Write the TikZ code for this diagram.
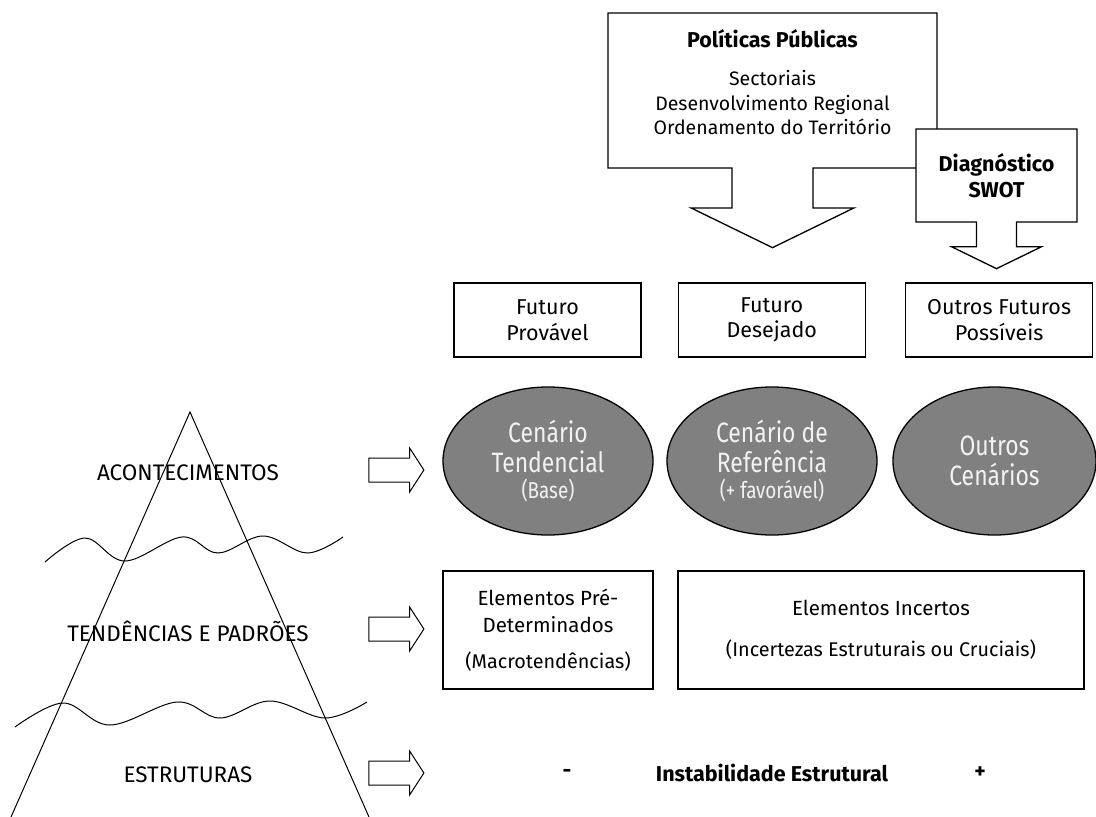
\documentclass[tikz,border=0pt]{standalone}
\usepackage{fontspec}
\setmainfont{Fira Sans}
\newfontfamily\estreita[FakeStretch=0.82]{Fira Sans}
\usepackage{tikz}
\usetikzlibrary{positioning, shapes.arrows, shapes.geometric}
\definecolor{cinza}{RGB}{128,128,128}
\definecolor{claro}{RGB}{242,242,242}
\tikzstyle{txt}=[font=\fontsize{21.5}{25.5}\selectfont, align=center]
\tikzstyle{fut}=[txt, draw, line width=1.3pt, minimum width=187pt, minimum height=74pt]
\tikzstyle{cen}=[ellipse, draw, line width=1.3pt, fill=cinza, text=claro, inner sep=0pt,
  minimum width=210pt, minimum height=148pt, align=center, font=\estreita\fontsize{28}{30}\selectfont]
\tikzstyle{elem}=[txt, draw, line width=1.3pt, minimum height=118pt, font=\fontsize{20.5}{27}\selectfont]
\tikzstyle{seta}=[single arrow, draw, line width=1pt, inner xsep=0pt, inner ysep=11.5pt,
  minimum height=55pt, single arrow head extend=10pt, single arrow tip angle=114]
\tikzstyle{caixaseta}=[arrow box, draw, fill=white, line width=1.3pt, txt, inner sep=0pt,
  arrow box tip angle=128, arrow box north arrow=-1pt, arrow box east arrow=-1pt,
  arrow box west arrow=-1pt]
\newcommand{\parent}[1]{{\fontsize{19.8}{24}\selectfont #1}}

\begin{document}
\begin{tikzpicture}[x=1pt, y=-1pt]
    \useasboundingbox (0,0) rectangle (1096,817);

    % piramide e ondas
    \draw[line width=1pt] (11,817) -- (190,412) -- (369,817);
    \draw[line width=1pt] plot[smooth, tension=0.6] coordinates {(45,562) (85,538) (125,561) (182,537) (218,553) (263,536) (307,553) (343,537)};
    \draw[line width=1pt] plot[smooth, tension=0.6] coordinates {(15,727) (63,703) (110,725) (177,702) (220,718) (270,701) (325,718) (367,702)};
    \node[txt, font=\fontsize{22.5}{26}\selectfont] (acont) at (188,473) {ACONTECIMENTOS};
    \node[txt, font=\fontsize{22.5}{26}\selectfont] (tend) at (188,631) {TENDÊNCIAS E PADRÕES};
    \node[txt, font=\fontsize{22.5}{26}\selectfont] (estr) at (188,775) {ESTRUTURAS};

    \node[seta] (s1) at (392.5,470) {};
    \node[seta] (s2) at (392.5,629) {};
    \node[seta] (s3) at (392.5,773) {};

    % politicas e swot
    \node[caixaseta, minimum width=329pt, minimum height=155pt, arrow box shaft width=81pt,
      arrow box head extend=41pt, arrow box south arrow=79pt] (pp) at (772.5,90.5) {};
    \node[txt, font=\fontsize{19.5}{24.5}\selectfont] (pptxt) at (772.5,82) {{\fontsize{21.5}{24}\selectfont\textbf{Políticas Públicas}}\\[14pt]Sectoriais\\Desenvolvimento Regional\\Ordenamento do Território};
    \node[caixaseta, minimum width=161pt, minimum height=93pt, arrow box shaft width=40pt,
      arrow box head extend=25pt, arrow box south arrow=46pt] (swot) at (996.5,175.5) {\textbf{Diagnóstico}\\\textbf{SWOT}};

    % futuros
    \node[fut] (fprov) at (547.5,320) {Futuro\\Provável};
    \node[fut, right=36pt of fprov] (fdes) {Futuro\\Desejado};
    \node[fut, right=39pt of fdes] (fout) {Outros Futuros\\Possíveis};

    % cenarios
    \node[cen] (ctend) at (548,461) {Cenário\\Tendencial\\[-4pt]{\fontsize{23}{26}\selectfont (Base)}};
    \node[cen] (cref) at (772,461) {Cenário de\\Referência\\[-4pt]{\fontsize{23}{26}\selectfont (+ favorável)}};
    \node[cen, minimum width=203pt] (cout) at (994.5,461) {Outros\\Cenários};

    % elementos
    \node[elem, minimum width=210pt] (epre) at (548,630) {Elementos Pré-\\Determinados\\[9pt]\parent{(Macrotendências)}};
    \node[elem, minimum width=406pt] (einc) at (881,630) {Elementos Incertos\\[14pt]\parent{(Incertezas Estruturais ou Cruciais)}};

    \node[txt] (menos) at (567,773) {\textbf{-}};
    \node[txt] (instab) at (772,773) {\textbf{Instabilidade Estrutural}};
    \node[txt] (mais) at (980,773) {\textbf{+}};
\end{tikzpicture}
\end{document}
